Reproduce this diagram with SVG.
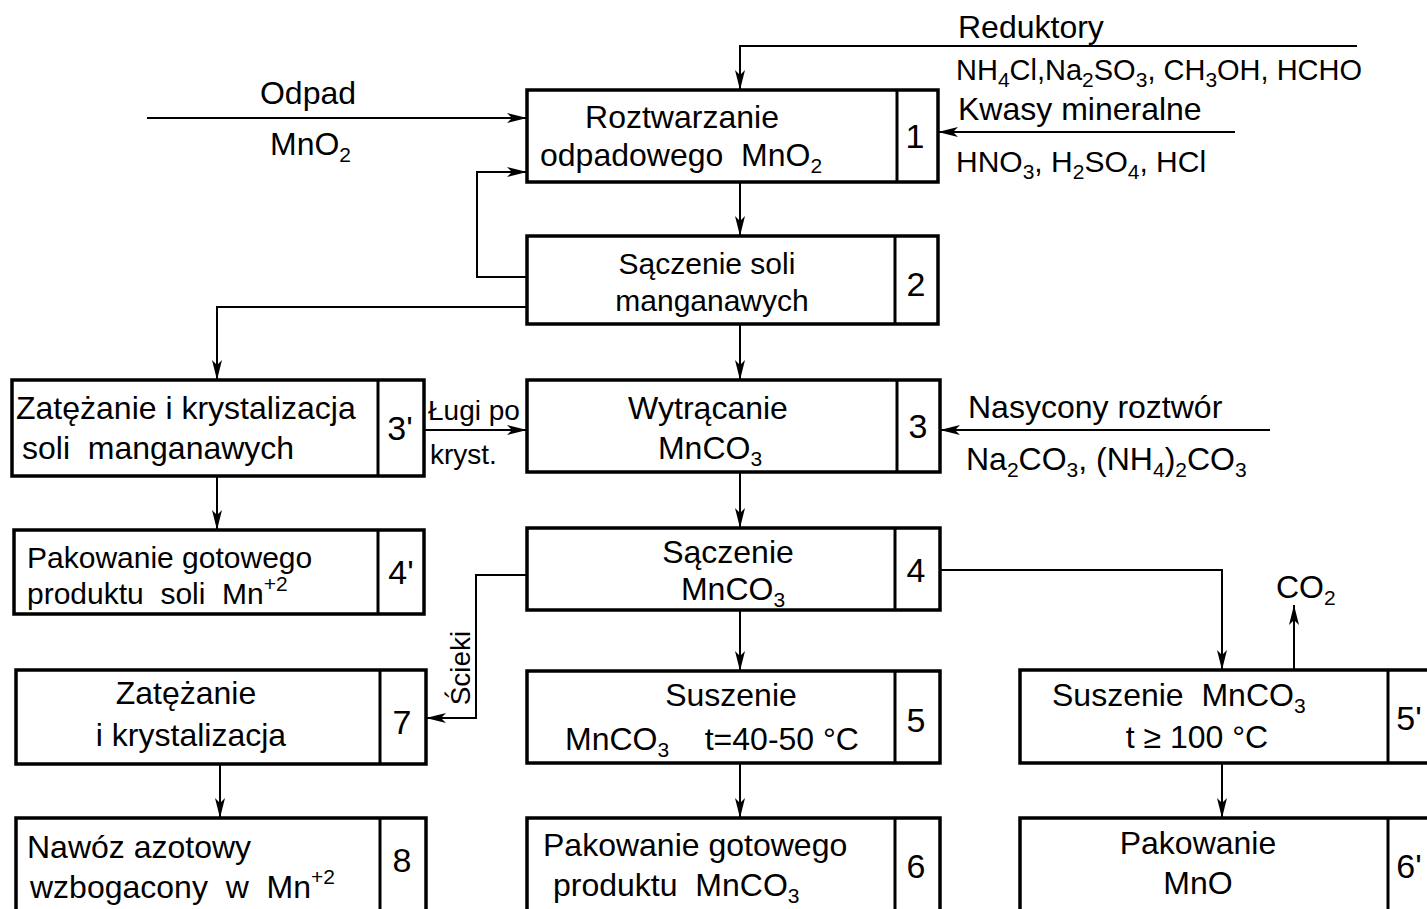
<svg xmlns="http://www.w3.org/2000/svg" width="1427" height="909" viewBox="0 0 1427 909" xml:space="preserve">
<style>
.box{fill:#fff;stroke:#000;stroke-width:3.5}
.div{stroke:#000;stroke-width:3}
.c{fill:none;stroke:#000;stroke-width:2}
text{font-family:"Liberation Sans",Arial,sans-serif;font-size:32px;fill:#000;white-space:pre}
.m{text-anchor:middle}
.n{font-size:34px;text-anchor:middle}
.s{font-size:21px}
.t{font-size:30px}
</style>
<defs>
<marker id="a" viewBox="0 0 20 10" refX="20" refY="5" markerWidth="20" markerHeight="10" markerUnits="userSpaceOnUse" orient="auto">
<path d="M0,0 L20,5 L0,10 L5,5 Z" fill="#000"/>
</marker>
</defs>
<rect width="1427" height="909" fill="#fff"/>
<g id="connectors">
<path class="c" d="M147,118 H527" marker-end="url(#a)"/>
<path class="c" d="M1357,46 H740 V90" marker-end="url(#a)"/>
<path class="c" d="M1235,132 H938" marker-end="url(#a)"/>
<path class="c" d="M740,182 V236" marker-end="url(#a)"/>
<path class="c" d="M527,277 H477 V172 H527" marker-end="url(#a)"/>
<path class="c" d="M527,307 H217 V380" marker-end="url(#a)"/>
<path class="c" d="M740,324 V380" marker-end="url(#a)"/>
<path class="c" d="M424,430 H527" marker-end="url(#a)"/>
<path class="c" d="M1270,430 H940" marker-end="url(#a)"/>
<path class="c" d="M740,472 V528" marker-end="url(#a)"/>
<path class="c" d="M217,476 V530" marker-end="url(#a)"/>
<path class="c" d="M527,575 H476 V718 H426" marker-end="url(#a)"/>
<path class="c" d="M740,610 V671" marker-end="url(#a)"/>
<path class="c" d="M940,570 H1222 V670" marker-end="url(#a)"/>
<path class="c" d="M1294,670 V605" marker-end="url(#a)"/>
<path class="c" d="M740,763 V818" marker-end="url(#a)"/>
<path class="c" d="M220,764 V818" marker-end="url(#a)"/>
<path class="c" d="M1222,763 V818" marker-end="url(#a)"/>
</g>
<g id="labels">
<text class="m" x="308" y="104">Odpad</text>
<text x="270" y="155">MnO<tspan class="s" dy="7">2</tspan></text>
<text x="958" y="38">Reduktory</text>
<text x="956" y="80" style="font-size:29px">NH<tspan class="s" dy="7">4</tspan><tspan dy="-7">Cl,Na</tspan><tspan class="s" dy="7">2</tspan><tspan dy="-7">SO</tspan><tspan class="s" dy="7">3</tspan><tspan dy="-7">, CH</tspan><tspan class="s" dy="7">3</tspan><tspan dy="-7">OH, HCHO</tspan></text>
<text x="958" y="120">Kwasy mineralne</text>
<text x="956" y="172" style="font-size:30px">HNO<tspan class="s" dy="7">3</tspan><tspan dy="-7">, H</tspan><tspan class="s" dy="7">2</tspan><tspan dy="-7">SO</tspan><tspan class="s" dy="7">4</tspan><tspan dy="-7">, HCl</tspan></text>
<text x="428" y="420" style="font-size:28px">Ługi po</text>
<text x="430" y="464" style="font-size:28px">kryst.</text>
<text x="968" y="418">Nasycony roztwór</text>
<text x="966" y="470">Na<tspan class="s" dy="7">2</tspan><tspan dy="-7">CO</tspan><tspan class="s" dy="7">3</tspan><tspan dy="-7">, (NH</tspan><tspan class="s" dy="7">4</tspan><tspan dy="-7">)</tspan><tspan class="s" dy="7">2</tspan><tspan dy="-7">CO</tspan><tspan class="s" dy="7">3</tspan></text>
<text transform="translate(470,668) rotate(-90)" class="m" style="font-size:28px">Ścieki</text>
<text x="1276" y="598">CO<tspan class="s" dy="7">2</tspan></text>
</g>
<g id="n1">
<rect class="box" x="527" y="90" width="411" height="92"/>
<line class="div" x1="897" y1="90" x2="897" y2="182"/>
<text class="m" x="682" y="128">Roztwarzanie</text>
<text x="540" y="166">odpadowego  MnO<tspan class="s" dy="7">2</tspan></text>
<text class="n" x="915" y="148">1</text>
</g>
<g id="n2">
<rect class="box" x="527" y="236" width="411" height="88"/>
<line class="div" x1="895" y1="236" x2="895" y2="324"/>
<text class="m t" x="707" y="274">Sączenie soli</text>
<text class="m t" x="712" y="311">manganawych</text>
<text class="n" x="916" y="296">2</text>
</g>
<g id="n3">
<rect class="box" x="527" y="380" width="413" height="92"/>
<line class="div" x1="897" y1="380" x2="897" y2="472"/>
<text class="m" x="708" y="419">Wytrącanie</text>
<text class="m" x="710" y="459">MnCO<tspan class="s" dy="7">3</tspan></text>
<text class="n" x="918" y="438">3</text>
</g>
<g id="n4">
<rect class="box" x="527" y="528" width="413" height="82"/>
<line class="div" x1="895" y1="528" x2="895" y2="610"/>
<text class="m" x="728" y="563">Sączenie</text>
<text class="m" x="733" y="600">MnCO<tspan class="s" dy="7">3</tspan></text>
<text class="n" x="916" y="582">4</text>
</g>
<g id="n5">
<rect class="box" x="527" y="671" width="413" height="92"/>
<line class="div" x1="895" y1="671" x2="895" y2="763"/>
<text class="m" x="731" y="706">Suszenie</text>
<text x="565" y="750">MnCO<tspan class="s" dy="7">3</tspan><tspan dy="-7">    t=40-50 °C</tspan></text>
<text class="n" x="916" y="732">5</text>
</g>
<g id="n6">
<rect class="box" x="527" y="818" width="413" height="100"/>
<line class="div" x1="895" y1="818" x2="895" y2="909"/>
<text x="543" y="856">Pakowanie gotowego</text>
<text x="553" y="896">produktu  MnCO<tspan class="s" dy="7">3</tspan></text>
<text class="n" x="916" y="878">6</text>
</g>
<g id="n3p">
<rect class="box" x="12" y="380" width="412" height="96"/>
<line class="div" x1="378" y1="380" x2="378" y2="476"/>
<text x="16" y="419">Zatężanie i krystalizacja</text>
<text x="22" y="459">soli  manganawych</text>
<text class="n" x="400" y="440">3'</text>
</g>
<g id="n4p">
<rect class="box" x="14" y="530" width="410" height="84"/>
<line class="div" x1="378" y1="530" x2="378" y2="614"/>
<text class="t" x="27" y="568">Pakowanie gotowego</text>
<text class="t" x="27" y="604">produktu  soli  Mn<tspan class="s" dy="-13">+2</tspan></text>
<text class="n" x="401" y="584">4'</text>
</g>
<g id="n7">
<rect class="box" x="16" y="670" width="410" height="94"/>
<line class="div" x1="380" y1="670" x2="380" y2="764"/>
<text class="m" x="186" y="704">Zatężanie</text>
<text class="m" x="191" y="746">i krystalizacja</text>
<text class="n" x="402" y="734">7</text>
</g>
<g id="n8">
<rect class="box" x="16" y="818" width="410" height="100"/>
<line class="div" x1="380" y1="818" x2="380" y2="909"/>
<text x="27" y="858">Nawóz azotowy</text>
<text x="30" y="898">wzbogacony  w  Mn<tspan class="s" dy="-14">+2</tspan></text>
<text class="n" x="402" y="872">8</text>
</g>
<g id="n5p">
<rect class="box" x="1020" y="670" width="420" height="93"/>
<line class="div" x1="1388" y1="670" x2="1388" y2="763"/>
<text x="1052" y="706">Suszenie  MnCO<tspan class="s" dy="7">3</tspan></text>
<text class="m" x="1197" y="748">t ≥ 100 °C</text>
<text class="n" x="1409" y="730">5'</text>
</g>
<g id="n6p">
<rect class="box" x="1020" y="818" width="420" height="100"/>
<line class="div" x1="1388" y1="818" x2="1388" y2="909"/>
<text class="m" x="1198" y="854">Pakowanie</text>
<text class="m" x="1198" y="894">MnO</text>
<text class="n" x="1409" y="878">6'</text>
</g>
</svg>
